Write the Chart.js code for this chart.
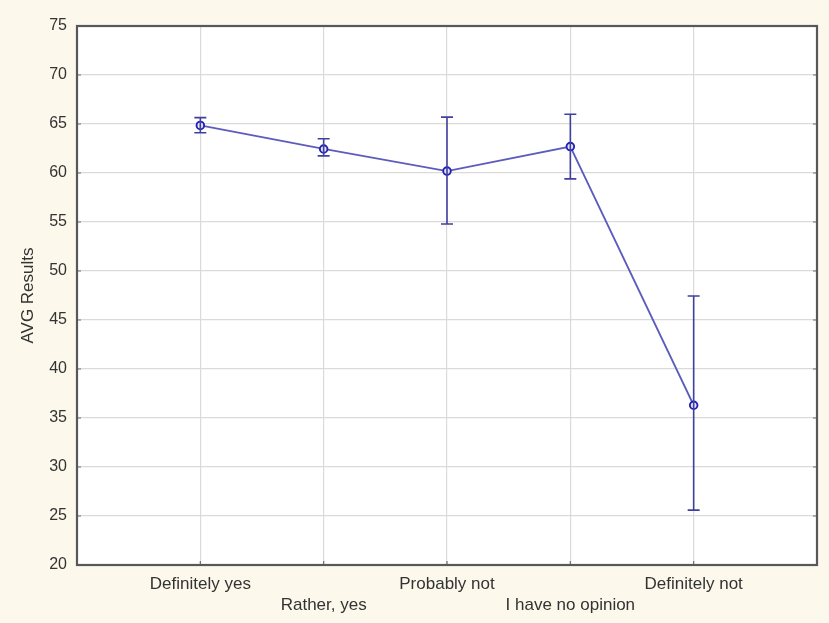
<!DOCTYPE html>
<html>
<head>
<meta charset="utf-8">
<script src="https://cdn.jsdelivr.net/npm/chart.js@4"></script>
<style>
  html, body { margin: 0; padding: 0; background: #fcf8ec; }
  #wrap { width: 829px; height: 623px; }
</style>
</head>
<body>
<div id="wrap"><canvas id="c" width="829" height="623"></canvas></div>
<script>
// Survey answer groups and their average results with error bounds
const categories = ['Definitely yes', 'Rather, yes', 'Probably not', 'I have no opinion', 'Definitely not'];
const avgResults = [64.85, 62.45, 60.2, 62.7, 36.3];
const lowerBound = [64.1, 61.75, 54.8, 59.4, 25.6];
const upperBound = [65.65, 63.5, 65.7, 66.0, 47.45];
const yTicks = [20, 25, 30, 35, 40, 45, 50, 55, 60, 65, 70, 75];

const points = avgResults.map((v, i) => ({ x: i + 1, y: v }));
const FONT = 'Liberation Sans, Arial, sans-serif';

// Cream page background with a white plot area
const backgroundPlugin = {
  id: 'bg',
  beforeDraw(chart) {
    const ctx = chart.ctx;
    ctx.save();
    ctx.fillStyle = '#fcf8ec';
    ctx.fillRect(0, 0, chart.width, chart.height);
    const a = chart.chartArea;
    ctx.fillStyle = '#ffffff';
    ctx.fillRect(a.left, a.top, a.right - a.left, a.bottom - a.top);
    ctx.restore();
  }
};

// Whiskers drawn through the scales, plus the frame and inner tick marks
const errorBarPlugin = {
  id: 'errorBars',
  afterDatasetsDraw(chart) {
    const ctx = chart.ctx;
    const xs = chart.scales.x, ys = chart.scales.y;
    ctx.save();
    ctx.strokeStyle = '#40409e';
    ctx.lineWidth = 1.6;
    avgResults.forEach((v, i) => {
      const px = xs.getPixelForValue(i + 1);
      const pLo = ys.getPixelForValue(lowerBound[i]);
      const pHi = ys.getPixelForValue(upperBound[i]);
      ctx.beginPath();
      ctx.moveTo(px, pLo); ctx.lineTo(px, pHi);
      ctx.moveTo(px - 6, pLo); ctx.lineTo(px + 6, pLo);
      ctx.moveTo(px - 6, pHi); ctx.lineTo(px + 6, pHi);
      ctx.stroke();
    });
    ctx.restore();
  },
  afterDraw(chart) {
    const ctx = chart.ctx;
    const a = chart.chartArea;
    const xs = chart.scales.x, ys = chart.scales.y;
    ctx.save();
    ctx.strokeStyle = '#707070';
    ctx.lineWidth = 1.2;
    ctx.beginPath();
    yTicks.forEach(v => {
      const py = ys.getPixelForValue(v);
      ctx.moveTo(a.left, py); ctx.lineTo(a.left + 4, py);
      ctx.moveTo(a.right, py); ctx.lineTo(a.right - 4, py);
    });
    categories.forEach((_, i) => {
      const px = xs.getPixelForValue(i + 1);
      ctx.moveTo(px, a.bottom); ctx.lineTo(px, a.bottom - 4);
    });
    ctx.stroke();
    ctx.strokeStyle = '#585858';
    ctx.lineWidth = 2.2;
    ctx.strokeRect(a.left, a.top, a.right - a.left, a.bottom - a.top);
    ctx.restore();
  }
};

new Chart(document.getElementById('c'), {
  type: 'line',
  data: {
    datasets: [{
      data: points,
      borderColor: '#5c5cbe',
      borderWidth: 1.8,
      pointRadius: 3.8,
      pointBorderWidth: 1.9,
      pointBorderColor: '#2020b4',
      pointBackgroundColor: '#e4e4f6',
      tension: 0
    }]
  },
  options: {
    responsive: false,
    animation: false,
    events: [],
    layout: { padding: { top: 26, right: 12, left: 0, bottom: 0 } },
    plugins: { legend: { display: false }, tooltip: { enabled: false } },
    scales: {
      x: {
        type: 'linear',
        min: 0,
        max: 6,
        afterBuildTicks(scale) {
          scale.ticks = categories.map((_, i) => ({ value: i + 1 }));
        },
        afterFit(scale) { scale.height = 58; },
        grid: { color: '#dadada', lineWidth: 1.2, drawTicks: false },
        border: { display: false },
        ticks: {
          padding: 9,
          autoSkip: false,
          maxRotation: 0,
          color: '#333333',
          font: { family: FONT, size: 17, lineHeight: 1.22 },
          callback(value) {
            const i = Math.round(value) - 1;
            const lbl = categories[i];
            if (lbl === undefined) return '';
            return i % 2 === 0 ? [lbl, ''] : ['', lbl];
          }
        }
      },
      y: {
        min: 20,
        max: 75,
        afterBuildTicks(scale) {
          scale.ticks = yTicks.map(v => ({ value: v }));
        },
        afterFit(scale) { scale.width = 77; },
        grid: { color: '#dadada', lineWidth: 1.2, drawTicks: false },
        border: { display: false },
        title: {
          display: true,
          text: 'AVG Results',
          color: '#333333',
          font: { family: FONT, size: 17 },
          padding: { top: 18, bottom: 0 }
        },
        ticks: {
          padding: 10,
          color: '#333333',
          font: { family: FONT, size: 16 }
        }
      }
    }
  },
  plugins: [backgroundPlugin, errorBarPlugin]
});
</script>
</body>
</html>
